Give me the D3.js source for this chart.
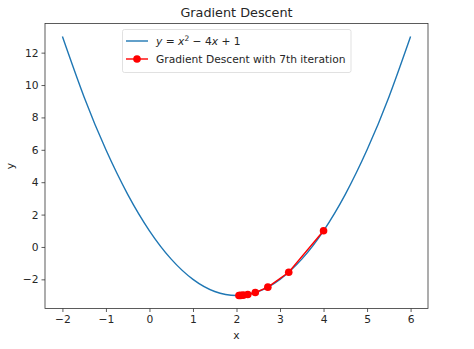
<!DOCTYPE html>
<html>
<head>
<meta charset="utf-8">
<script src="https://cdn.jsdelivr.net/npm/d3@7"></script>
<style>
  body { margin: 0; background: #fff; }
  svg text { font-family: "DejaVu Sans", sans-serif; fill: #262626; }
</style>
</head>
<body>
<svg id="chart" width="474" height="349"></svg>
<script>
// Sampled values of y = x^2 - 4x + 1
const curveX = [-2, -1.5, -1, -0.5, 0, 0.5, 1, 1.5, 2, 2.5, 3, 3.5, 4, 4.5, 5, 5.5, 6];
const curveY = [13, 9.25, 6, 3.25, 1, -0.75, -2, -2.75, -3, -2.75, -2, -0.75, 1, 3.25, 6, 9.25, 13];

// Gradient descent iterates (start + 7 steps)
const gdX = [4, 3.2, 2.72, 2.432, 2.2592, 2.1555, 2.0933, 2.056];
const gdY = [1, -1.56, -2.4816, -2.8134, -2.9328, -2.9758, -2.9913, -2.9969];

const xTicks = [-2, -1, 0, 1, 2, 3, 4, 5, 6];
const yTicks = [-2, 0, 2, 4, 6, 8, 10, 12];

const svg = d3.select("#chart");
const m = { left: 45, right: 428, top: 23.5, bottom: 308.5 };
const fs = 10.7;

const x = d3.scaleLinear().domain([-2.4, 6.4]).range([m.left, m.right]);
const y = d3.scaleLinear().domain([-3.8, 13.8]).range([m.bottom, m.top]);

const clipId = "plot-clip";
svg.append("clipPath").attr("id", clipId)
  .append("rect").attr("x", m.left).attr("y", m.top)
  .attr("width", m.right - m.left).attr("height", m.bottom - m.top);

const plot = svg.append("g").attr("clip-path", `url(#${clipId})`);

const curveData = curveX.map((v, i) => [v, curveY[i]]);
plot.append("path")
  .datum(curveData)
  .attr("fill", "none")
  .attr("stroke", "#1f77b4")
  .attr("stroke-width", 1.4)
  .attr("d", d3.line().x(d => x(d[0])).y(d => y(d[1])).curve(d3.curveNatural));

const gdData = gdX.map((v, i) => [v, gdY[i]]);
plot.append("path")
  .datum(gdData)
  .attr("fill", "none")
  .attr("stroke", "#ff0000")
  .attr("stroke-width", 1.4)
  .attr("d", d3.line().x(d => x(d[0])).y(d => y(d[1])));

plot.selectAll("circle.gd")
  .data(gdData)
  .enter().append("circle")
  .attr("class", "gd")
  .attr("cx", d => x(d[0]))
  .attr("cy", d => y(d[1]))
  .attr("r", 3.8)
  .attr("fill", "#ff0000");

// Axes
const fmt = d => d < 0 ? "\u2212" + Math.abs(d) : String(d);
const xAxis = d3.axisBottom(x).tickValues(xTicks).tickSize(3.5).tickPadding(3).tickFormat(fmt);
const yAxis = d3.axisLeft(y).tickValues(yTicks).tickSize(3.5).tickPadding(3).tickFormat(fmt);

const gx = svg.append("g").attr("transform", `translate(0,${m.bottom})`).call(xAxis);
const gy = svg.append("g").attr("transform", `translate(${m.left},0)`).call(yAxis);
[gx, gy].forEach(g => {
  g.select(".domain").remove();
  g.selectAll(".tick line").attr("stroke", "#333").attr("stroke-width", 0.8);
  g.selectAll(".tick text").attr("font-size", fs).attr("fill", "#262626")
    .style("font-family", "DejaVu Sans, sans-serif");
});

// Frame
svg.append("rect")
  .attr("x", m.left).attr("y", m.top)
  .attr("width", m.right - m.left).attr("height", m.bottom - m.top)
  .attr("fill", "none").attr("stroke", "#333").attr("stroke-width", 0.8);

// Title and axis labels
svg.append("text").attr("x", (m.left + m.right) / 2).attr("y", 17)
  .attr("text-anchor", "middle").attr("font-size", 12.8).text("Gradient Descent");
svg.append("text").attr("x", (m.left + m.right) / 2).attr("y", 339)
  .attr("text-anchor", "middle").attr("font-size", fs).text("x");
svg.append("text")
  .attr("transform", `translate(14,${(m.top + m.bottom) / 2}) rotate(-90)`)
  .attr("text-anchor", "middle").attr("font-size", fs).text("y");

// Legend
const lg = svg.append("g");
lg.append("rect").attr("x", 122.5).attr("y", 29.5).attr("width", 228.5).attr("height", 43)
  .attr("rx", 2).attr("fill", "#fff").attr("fill-opacity", 0.8)
  .attr("stroke", "#d9d9d9").attr("stroke-width", 0.8);
lg.append("line").attr("x1", 126).attr("x2", 148).attr("y1", 41).attr("y2", 41)
  .attr("stroke", "#1f77b4").attr("stroke-width", 1.4);
const t1 = lg.append("text").attr("x", 156).attr("y", 45).attr("font-size", fs);
t1.append("tspan").attr("font-style", "italic").text("y");
t1.append("tspan").text(" = ");
t1.append("tspan").attr("font-style", "italic").text("x");
t1.append("tspan").attr("font-size", 7.5).attr("dy", -4).text("2");
t1.append("tspan").attr("dy", 4).text(" \u2212 4");
t1.append("tspan").attr("font-style", "italic").text("x");
t1.append("tspan").text(" + 1");

lg.append("line").attr("x1", 126).attr("x2", 148).attr("y1", 59).attr("y2", 59)
  .attr("stroke", "#ff0000").attr("stroke-width", 1.4);
lg.append("circle").attr("cx", 137).attr("cy", 59).attr("r", 3.8).attr("fill", "#ff0000");
lg.append("text").attr("x", 156).attr("y", 63).attr("font-size", fs)
  .text("Gradient Descent with 7th iteration");
</script>
</body>
</html>
